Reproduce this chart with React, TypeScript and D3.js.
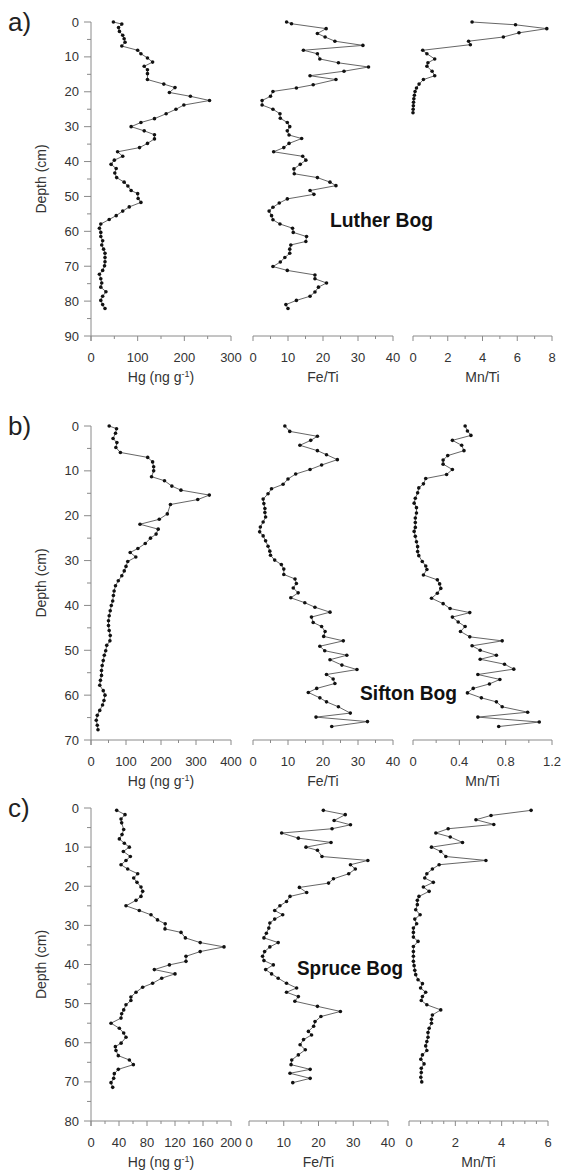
import React from "react";
import * as d3 from "d3";

type P = [number, number]; // [depth cm, value]

// ---------- Luther Bog ----------
const LUTHER_HG: P[] = [[0,48],[0.6,66],[1.6,59],[2.7,61],[3.8,68],[4.8,71],[5.8,73],[6.9,66],[8.1,100],[9.1,107],[10.3,121],[11.5,132],[12.7,114],[13.7,121],[14.8,121],[16.5,121],[17.8,156],[18.8,180],[20.2,168],[21.3,213],[22.5,254],[23.8,199],[25,182],[26.3,161],[27.7,136],[28.8,107],[30,86],[31.2,114],[32.3,136],[33.5,136],[34.8,121],[36,104],[37.2,57],[38.5,68],[39.6,50],[40.8,43],[42,54],[43.3,51],[44.6,55],[45.9,71],[47,79],[48.3,86],[49.2,100],[50.6,101],[51.7,107],[53,82],[54.2,68],[55.5,54],[56.6,39],[57.9,21],[59.1,18],[60.3,21],[61.5,21],[62.7,25],[63.9,23],[65.1,27],[66.3,30],[67.5,30],[68.7,30],[69.9,29],[71.2,25],[72.3,18],[73.6,21],[74.8,23],[76,21],[77.3,32],[78.6,25],[79.8,21],[81,25],[82.1,30]];
const LUTHER_FETI: P[] = [[0,9.6],[0.5,11.0],[1.9,20.9],[3.3,18.4],[4.3,20.6],[5.5,23.4],[6.7,31.4],[8.1,14.4],[9.1,18.4],[10.6,19.1],[11.7,24.4],[12.9,33],[14.1,26],[15.4,16.3],[16.5,23.7],[18,17.2],[18.9,12.4],[19.9,5.7],[21.3,5.0],[22.5,2.6],[23.8,2.6],[25,5.7],[26.3,7.7],[27.6,7.8],[28.8,9.8],[30,10.5],[31.2,9.8],[32.4,10.3],[33.4,13.9],[34.8,10.3],[36,8.8],[37.2,5.9],[38.5,14.2],[39.6,15.1],[40.8,13.5],[42.1,11.7],[43.5,11.8],[44.6,18.4],[45.9,22],[46.9,23.7],[48.3,16.3],[49.4,17.4],[50.7,9.8],[51.9,7.5],[53.1,5.7],[54.2,4.6],[55.5,5.3],[56.7,5.7],[57.9,7.7],[59.1,11.3],[60.3,11.5],[61.5,15.3],[62.9,15.1],[63.9,10.8],[65.1,10.5],[66.3,10.5],[67.5,9.1],[68.8,7.8],[70.1,5.7],[71.2,9.8],[72.5,17.7],[73.6,17.7],[74.8,21],[76,18.7],[77.4,17.7],[78.6,16.3],[79.8,12.4],[81,9.4],[82.1,10.0]];
const LUTHER_MNTI: P[] = [[0,3.4],[0.8,5.9],[1.9,7.7],[3.1,6.1],[4.3,5.2],[5.5,3.2],[6.5,3.3],[8.1,0.56],[9.1,0.8],[10.6,1.25],[11.7,0.86],[12.7,0.8],[14.1,1.1],[15.4,1.25],[16.5,0.6],[17.8,0.35],[18.9,0.2],[19.9,0.12],[21,0.08],[22,0.05],[23,0.03],[24,0.02],[25,0.01],[26,0.0]];

// ---------- Sifton Bog ----------
const SIFTON_HG: P[] = [[0,52],[0.6,73],[1.6,70],[2.8,63],[3.7,74],[4.8,71],[5.9,84],[7,162],[8,176],[9.1,179],[10,179],[11.3,173],[12.2,210],[13.4,231],[14.3,257],[15.4,338],[16.4,305],[17.5,227],[19.6,218],[20.8,195],[21.9,140],[23,192],[24.1,186],[25,170],[26.2,155],[27.3,134],[28.2,112],[29.2,128],[30.2,105],[31.3,100],[32.3,95],[33.4,88],[34.5,78],[35.6,70],[36.8,66],[37.8,64],[39,62],[40,58],[41.2,55],[42.3,52],[43.4,50],[44.5,50],[45.6,52],[46.7,55],[47.9,54],[48.9,45],[50.1,42],[51.1,38],[52.3,35],[53.4,32],[54.5,30],[55.6,30],[56.7,27],[57.8,25],[59,35],[60,40],[61.2,37],[62.2,33],[63.4,25],[64.5,18],[65.6,15],[66.7,18],[67.7,20]];
const SIFTON_FETI: P[] = [[0,9.1],[1.2,10.5],[2.3,18.4],[3.2,16.5],[4.3,13.4],[5.5,18.4],[6.4,21],[7.5,24.1],[8.7,19.6],[9.7,16.3],[10.7,12.2],[11.8,10],[13,8.6],[14,5.3],[15.1,4.3],[16.3,2.9],[17.3,3.1],[18.4,3.4],[19.3,3.4],[20.3,3.6],[21.4,2.9],[22.5,2.1],[23.6,1.9],[24.5,2.9],[25.6,3.6],[26.8,4.3],[27.9,4.8],[28.8,5.0],[29.9,6.2],[30.9,8.1],[31.9,8.8],[33.1,8.8],[34.1,12],[35.1,12.4],[36.1,11.5],[37.2,12.9],[38.3,10.8],[39.4,14.8],[40.4,17.7],[41.5,22],[42.6,16.7],[43.8,17.2],[44.7,19.6],[45.8,20.6],[46.9,20.2],[47.9,25.8],[49.1,19.1],[50.1,20.5],[51.1,26.8],[52.1,22],[53.3,25.4],[54.3,29.7],[55.4,21],[56.4,22.9],[57.4,23.4],[58.5,18.2],[59.4,15.8],[60.6,19.1],[61.5,21],[62.6,24.4],[64,27.8],[64.9,18],[65.9,32.7],[67,22.5]];
const SIFTON_MNTI: P[] = [[0,0.45],[1.1,0.47],[2.1,0.5],[3.2,0.34],[4.3,0.42],[5.5,0.44],[6.6,0.30],[7.6,0.26],[8.5,0.26],[9.7,0.34],[10.8,0.29],[11.7,0.11],[12.9,0.09],[13.8,0.05],[14.9,0.04],[16.1,0.02],[17.2,0.01],[18.2,0.03],[19.4,0.03],[20.5,0.02],[21.5,0.02],[22.6,0.02],[23.5,0.01],[24.6,0.02],[25.8,0.03],[26.9,0.04],[28,0.04],[28.9,0.05],[30.2,0.08],[31.2,0.11],[32,0.12],[33.2,0.09],[34.3,0.21],[35.2,0.23],[36.2,0.24],[37.3,0.21],[38.4,0.16],[39.6,0.26],[40.7,0.32],[41.6,0.49],[42.6,0.34],[43.7,0.39],[44.7,0.45],[45.8,0.41],[47,0.49],[47.9,0.77],[49,0.51],[50,0.58],[51.1,0.72],[52,0.58],[53.1,0.79],[54.2,0.87],[55.4,0.56],[56.5,0.75],[57.5,0.66],[58.5,0.52],[59.5,0.47],[60.6,0.59],[61.5,0.72],[62.6,0.77],[63.8,0.99],[64.9,0.56],[66,1.09],[67,0.74]];

// ---------- Spruce Bog ----------
const SPRUCE_HG: P[] = [[0.6,36.7],[1.7,48.6],[2.8,42.9],[3.8,43.8],[5.5,46.7],[6.8,44.3],[7.9,40.5],[9,47.6],[10,54.8],[11.1,46.2],[12.4,56.2],[13.4,50],[14.5,42.9],[15.6,52.4],[16.8,66.7],[17.9,61],[19,65.7],[20.2,71.4],[21.3,73.8],[22.6,71.4],[23.6,64.3],[25,50],[26.2,69],[27.3,85.7],[28.6,95],[29.6,106],[30.9,105.7],[31.8,128.6],[33.2,134.8],[34.4,156],[35.5,190],[36.7,156],[37.9,135.7],[39.2,135.7],[40.1,112],[41.3,90.5],[42.4,120],[43.5,101],[44.8,88],[45.8,73.8],[47.1,64.3],[48.3,57],[49.2,57],[50.3,50],[51.6,46.7],[52.6,43.8],[53.7,42.9],[55,28.6],[56.3,40.5],[57.5,46.7],[58.6,50],[60.1,43],[61,34.8],[62,35.7],[63.3,39],[64.4,54.8],[65.6,60.5],[66.8,39],[67.9,33.3],[69.1,32.4],[70.2,28.6],[71.4,31]];
const SPRUCE_FETI: P[] = [[0.6,21.4],[1.7,27.7],[3.2,24.5],[4.3,29.2],[5.3,23.9],[6.4,9.4],[7.7,14.2],[8.8,23.6],[10,16.4],[10.8,19.7],[12.4,21],[13.4,34.2],[14.5,29.2],[15.6,30.6],[16.8,28.7],[18.1,24.3],[19.2,22.9],[20.3,14.5],[21.6,16.6],[22.6,11.8],[23.9,10.8],[25,8.9],[26.2,7.4],[27.3,9.7],[28.4,7.4],[29.4,6],[30.7,5.7],[32,5],[33.2,4.3],[34.4,8.4],[35.5,6],[36.7,4.5],[37.9,3.9],[39,4.3],[40.1,7],[41.3,4.8],[42.4,6.5],[43.5,8.4],[44.8,10.8],[46,13.7],[47.1,10.8],[48.2,14.2],[49.4,13.2],[50.7,19.7],[52,26.3],[53.3,20.7],[54.6,19],[55.8,18.6],[57.1,17.1],[58,18],[59.2,15.7],[60.5,14.7],[61.8,16.2],[63.1,14.2],[64.4,12.3],[65.6,12.1],[66.8,17.6],[67.8,11.8],[69.1,17.6],[70.2,12.6]];
const SPRUCE_MNTI: P[] = [[0.6,5.27],[1.9,3.54],[3,2.89],[4.2,3.66],[5.3,1.69],[6.4,1.16],[7.4,1.78],[8.8,2.31],[10,0.97],[11.1,1.37],[12.4,1.59],[13.4,3.32],[14.5,1.3],[15.6,1.01],[16.8,0.77],[17.9,0.68],[19,1.05],[20.2,0.62],[21.3,0.87],[22.6,0.43],[23.6,0.36],[24.7,0.36],[26,0.29],[27.3,0.48],[28.4,0.25],[29.6,0.33],[30.7,0.19],[31.8,0.19],[33,0.19],[34.1,0.39],[35.4,0.19],[36.7,0.19],[37.9,0.19],[39.2,0.19],[40.3,0.22],[41.5,0.25],[42.6,0.29],[43.9,0.39],[44.9,0.58],[46,0.5],[47.1,0.72],[48.2,0.58],[49.2,0.53],[50.3,0.77],[51.6,1.37],[52.9,1.01],[54,0.97],[55,0.97],[56.3,0.87],[57.4,0.82],[58.6,0.82],[59.7,0.77],[60.8,0.72],[62,0.77],[63.1,0.58],[64.2,0.51],[65.4,0.65],[66.5,0.53],[67.6,0.53],[68.8,0.51],[70,0.55]];

// ---------- axis ticks ----------
const DEPTH_TICKS_A = [0, 10, 20, 30, 40, 50, 60, 70, 80, 90];
const DEPTH_TICKS_B = [0, 10, 20, 30, 40, 50, 60, 70];
const DEPTH_TICKS_C = [0, 10, 20, 30, 40, 50, 60, 70, 80];
const HG_TICKS_A = [0, 100, 200, 300];
const HG_TICKS_B = [0, 100, 200, 300, 400];
const HG_TICKS_C = [0, 40, 80, 120, 160, 200];
const FETI_TICKS = [0, 10, 20, 30, 40];
const MNTI_TICKS_A = [0, 2, 4, 6, 8];
const MNTI_TICKS_B = [0, 0.4, 0.8, 1.2];
const MNTI_TICKS_C = [0, 2, 4, 6];
const PANEL_LETTERS = ["a)", "b)", "c)"];
const BOG_NAMES = ["Luther Bog", "Sifton Bog", "Spruce Bog"];

type Kind = "hg" | "fe" | "mn";
interface Sub { kind: Kind; data: P[]; ticks: number[]; minor: number; x0: number; x1: number; }
interface Panel {
  letter: string; y0: number; y1: number; depthTicks: number[];
  bog: string; bogX0: number; bogX1: number; bogDepth: number; subs: Sub[];
}

const PANELS: Panel[] = [
  {
    letter: PANEL_LETTERS[0], y0: 22, y1: 336, depthTicks: DEPTH_TICKS_A,
    bog: BOG_NAMES[0], bogX0: 330, bogX1: 433, bogDepth: 56.7,
    subs: [
      { kind: "hg", data: LUTHER_HG, ticks: HG_TICKS_A, minor: 50, x0: 91, x1: 231 },
      { kind: "fe", data: LUTHER_FETI, ticks: FETI_TICKS, minor: 5, x0: 253, x1: 393 },
      { kind: "mn", data: LUTHER_MNTI, ticks: MNTI_TICKS_A, minor: 1, x0: 413, x1: 552 },
    ],
  },
  {
    letter: PANEL_LETTERS[1], y0: 426, y1: 740, depthTicks: DEPTH_TICKS_B,
    bog: BOG_NAMES[1], bogX0: 360, bogX1: 457, bogDepth: 59.5,
    subs: [
      { kind: "hg", data: SIFTON_HG, ticks: HG_TICKS_B, minor: 50, x0: 91, x1: 231 },
      { kind: "fe", data: SIFTON_FETI, ticks: FETI_TICKS, minor: 5, x0: 253, x1: 393 },
      { kind: "mn", data: SIFTON_MNTI, ticks: MNTI_TICKS_B, minor: 0.2, x0: 413, x1: 552 },
    ],
  },
  {
    letter: PANEL_LETTERS[2], y0: 808, y1: 1121, depthTicks: DEPTH_TICKS_C,
    bog: BOG_NAMES[2], bogX0: 297, bogX1: 403, bogDepth: 41,
    subs: [
      { kind: "hg", data: SPRUCE_HG, ticks: HG_TICKS_C, minor: 20, x0: 91, x1: 231 },
      { kind: "fe", data: SPRUCE_FETI, ticks: FETI_TICKS, minor: 5, x0: 249, x1: 388 },
      { kind: "mn", data: SPRUCE_MNTI, ticks: MNTI_TICKS_C, minor: 0.5, x0: 409, x1: 548 },
    ],
  },
];

const FONT = "'Liberation Sans', Arial, sans-serif";
const AXIS = "#8a8a8a";
const TXT = "#333";

function Title({ kind, x, y }: { kind: Kind; x: number; y: number }) {
  if (kind === "hg") {
    return (
      <text x={x} y={y} textAnchor="middle" fontSize={14} fill={TXT} fontFamily={FONT}>
        Hg (ng g<tspan dy={-5} fontSize={9}>-1</tspan><tspan dy={5}>)</tspan>
      </text>
    );
  }
  return (
    <text x={x} y={y} textAnchor="middle" fontSize={14} fill={TXT} fontFamily={FONT}>
      {kind === "fe" ? "Fe/Ti" : "Mn/Ti"}
    </text>
  );
}

function SubPlot({ sub, y: yScale, y1 }: { sub: Sub; y: d3.ScaleLinear<number, number>; y1: number }) {
  const dmax = sub.ticks[sub.ticks.length - 1];
  const x = d3.scaleLinear().domain([0, dmax]).range([sub.x0, sub.x1]);
  const line = d3
    .line<P>()
    .x((d) => x(d[1]))
    .y((d) => yScale(d[0]));
  const minors = d3.range(0, dmax + 1e-9, sub.minor).filter(
    (v) => !sub.ticks.some((t) => Math.abs(t - v) < 1e-6)
  );
  return (
    <g>
      <line x1={sub.x0} x2={sub.x1} y1={y1} y2={y1} stroke={AXIS} strokeWidth={1} />
      {sub.ticks.map((t) => (
        <line key={"M" + t} x1={x(t)} x2={x(t)} y1={y1} y2={y1 + 5} stroke={AXIS} strokeWidth={1} />
      ))}
      {minors.map((t) => (
        <line key={"m" + t} x1={x(t)} x2={x(t)} y1={y1} y2={y1 + 3} stroke={AXIS} strokeWidth={1} />
      ))}
      {sub.ticks.map((t) => (
        <text key={"l" + t} x={x(t)} y={y1 + 26} textAnchor="middle" fontSize={13} fill={TXT} fontFamily={FONT}>
          {String(t)}
        </text>
      ))}
      <Title kind={sub.kind} x={(sub.x0 + sub.x1) / 2} y={y1 + 46} />
      <path d={line(sub.data) || ""} fill="none" stroke="#555" strokeWidth={0.9} />
      {sub.data.map((d, i) => (
        <circle key={i} cx={x(d[1])} cy={yScale(d[0])} r={1.8} fill="#111" />
      ))}
    </g>
  );
}

function PanelView({ p }: { p: Panel }) {
  const dmax = p.depthTicks[p.depthTicks.length - 1];
  const y = d3.scaleLinear().domain([0, dmax]).range([p.y0, p.y1]);
  const minorDepth = d3.range(5, dmax, 10);
  const ax = 91;
  return (
    <g>
      <text x={8} y={y(0) + 9} fontSize={26} fill="#222" fontFamily={FONT}>{p.letter}</text>
      <line x1={ax} x2={ax} y1={p.y0} y2={p.y1 + 5} stroke={AXIS} strokeWidth={1} />
      {p.depthTicks.map((t) => (
        <g key={t}>
          <line x1={ax - 7} x2={ax} y1={y(t)} y2={y(t)} stroke={AXIS} strokeWidth={1} />
          <text x={79} y={y(t) + 4.5} textAnchor="end" fontSize={13} fill={TXT} fontFamily={FONT}>{t}</text>
        </g>
      ))}
      {minorDepth.map((t) => (
        <line key={"m" + t} x1={ax - 4} x2={ax} y1={y(t)} y2={y(t)} stroke={AXIS} strokeWidth={1} />
      ))}
      <text
        transform={`translate(46,${(p.y0 + p.y1) / 2}) rotate(-90)`}
        textAnchor="middle"
        fontSize={14}
        fill={TXT}
        fontFamily={FONT}
      >
        Depth (cm)
      </text>
      {p.subs.map((s, i) => (
        <SubPlot key={i} sub={s} y={y} y1={p.y1} />
      ))}
      <text
        x={p.bogX0}
        y={y(p.bogDepth) + 7}
        fontSize={20}
        fontWeight="bold"
        fill="#111"
        fontFamily="'Liberation Sans Narrow', 'Arial Narrow', 'Liberation Sans', sans-serif"
        textLength={p.bogX1 - p.bogX0}
        lengthAdjust="spacingAndGlyphs"
      >
        {p.bog}
      </text>
    </g>
  );
}

export default function App() {
  return (
    <svg width={562} height={1171} viewBox="0 0 562 1171" style={{ display: "block", position: "absolute", left: 0, top: 0, background: "#fff" }}>
      <rect x={0} y={0} width={562} height={1171} fill="#fff" />
      {PANELS.map((p, i) => (
        <PanelView key={i} p={p} />
      ))}
    </svg>
  );
}
